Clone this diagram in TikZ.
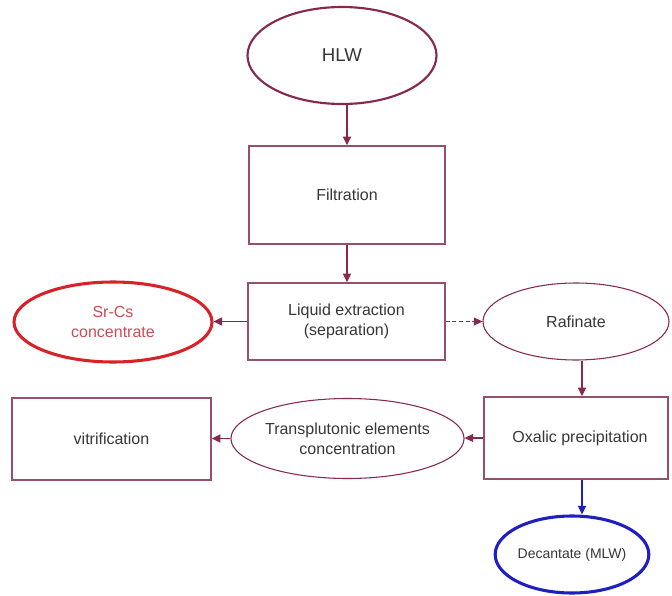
\documentclass[tikz,border=0pt]{standalone}
\usepackage{fontspec}
\setmainfont{Liberation Sans}
\usetikzlibrary{shapes.geometric,arrows.meta}
\definecolor{maroon}{RGB}{135,40,80}
\definecolor{boxline}{RGB}{150,80,110}
\definecolor{txt}{RGB}{55,55,55}
\definecolor{srred}{RGB}{215,35,40}
\definecolor{srtxt}{RGB}{205,75,85}
\definecolor{decblue}{RGB}{30,30,195}
\tikzset{
  base/.style={inner sep=0pt, text=txt, align=center, font=\fontsize{12}{15}\selectfont},
  procbox/.style={base, rectangle, draw=boxline, line width=1.1pt},
  oval/.style={base, ellipse, draw=maroon, line width=0.8pt},
  flow/.style={draw=maroon, line width=1.1pt, -{Triangle[length=6.5pt,width=6pt]}},
}
\begin{document}
\begin{tikzpicture}[x=0.75pt,y=-0.75pt]
\useasboundingbox (0,0) rectangle (672,596);
\clip (0,0) rectangle (672,596);
\fill[white] (0,0) rectangle (672,596);
\node[oval, line width=1.6pt, minimum width=141.75pt, minimum height=72.75pt,
      font=\fontsize{14}{16}\selectfont] (hlw) at (342,55.5) {HLW};
\node[procbox, minimum width=147pt, minimum height=73.5pt] (filt) at (347,195) {Filtration};
\node[procbox, minimum width=147.75pt, minimum height=57.75pt] (liq) at (346.5,321.5) {Liquid extraction\\(separation)};
\node[oval, draw=srred, line width=2.3pt, text=srtxt, minimum width=148.5pt, minimum height=60pt] (srcs) at (113,322) {Sr-Cs\\concentrate};
\node[oval, minimum width=139.5pt, minimum height=57.75pt] (raf) at (576,321.5) {Rafinate};
\node[procbox, minimum width=138pt, minimum height=61.5pt] (oxa) at (576,438) {\hspace*{6pt}Oxalic precipitation};
\node[oval, minimum width=146.25pt, minimum height=60pt] (trans) at (347.5,438.5) {Transplutonic elements\\concentration};
\node[procbox, minimum width=149.25pt, minimum height=61.5pt] (vit) at (111.5,439) {vitrification};
\node[oval, draw=decblue, line width=2.3pt, minimum width=112.5pt, minimum height=57.75pt,
      font=\fontsize{10.5}{13}\selectfont] (dec) at (572,554.5) {Decantate (MLW)};
\draw[flow] (filt.north |- hlw.south) -- (filt.north);
\draw[flow] (filt.south) -- (filt.south |- liq.north);
\draw[flow] (liq.west) -- (liq.west -| srcs.east);
\draw[flow, line width=0.8pt, densely dashed] (liq.east) -- (raf.west);
\draw[flow] ([xshift=4.5pt]raf.south) -- ([xshift=4.5pt]oxa.north);
\draw[flow] (oxa.west) -- (oxa.west -| trans.east);
\draw[flow] (trans.west) -- (trans.west -| vit.east);
\draw[flow, draw=decblue] ([xshift=4.5pt]oxa.south) -- ([xshift=4.5pt]oxa.south |- dec.north);
\end{tikzpicture}
\end{document}
